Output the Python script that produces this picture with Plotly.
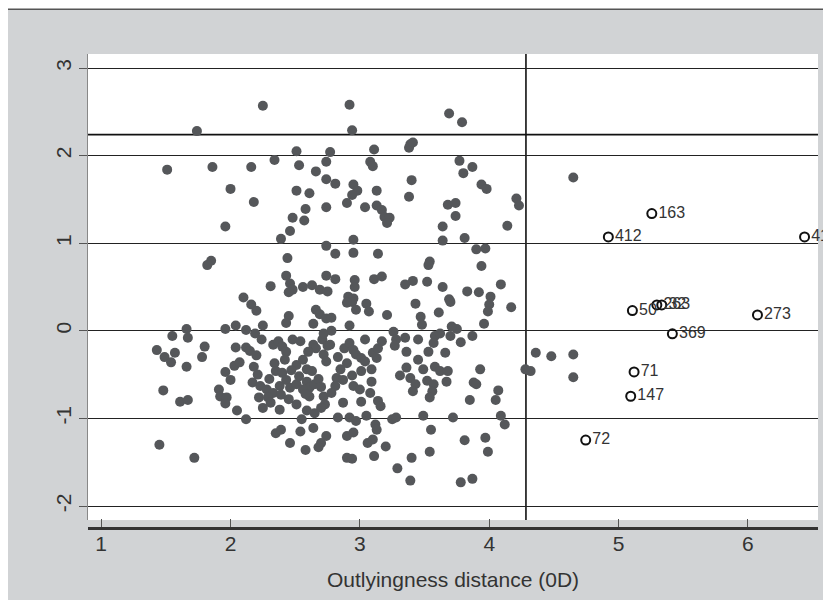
import plotly.graph_objects as go

# Filled points (regular observations): outlyingness distance (x) and y score
x_reg = [
    2.25, 1.74, 1.51, 1.86, 2.16, 2.34, 2.51, 2.53, 2.66, 2.74, 2.77, 2.74, 2.00, 2.18, 2.51, 2.61,
    2.58, 2.48, 2.57, 2.46, 2.39, 1.96, 2.74, 2.74, 2.44, 1.85, 1.82, 2.43, 2.74, 2.31, 2.46, 2.48,
    2.56, 2.63, 2.69, 2.75, 2.45, 2.10,
    2.92, 2.94, 3.69, 3.79, 3.11, 3.08, 3.10, 3.39, 3.38, 3.41, 3.77, 3.87, 3.80, 3.94, 3.98, 4.21,
    4.23, 2.81, 2.95, 2.98, 2.94, 2.90, 3.04, 3.13, 3.13, 3.17, 3.19, 3.23, 3.21, 3.40, 3.38, 3.68,
    3.74, 3.74, 3.64, 3.64, 3.81, 4.14, 3.90, 3.97, 3.94, 4.09, 3.83, 3.92, 4.01, 2.81, 2.95, 2.95,
    3.14, 3.54, 3.53, 2.81, 2.96, 2.96, 3.11, 3.17, 3.35, 3.41, 3.52, 3.64, 2.91, 2.95, 3.69,
    2.16, 2.20, 2.45, 2.43, 2.66, 2.69, 2.64, 2.74, 1.66, 1.67, 1.55, 1.43, 1.49, 1.54, 1.57, 1.66,
    1.80, 1.78, 1.48, 1.61, 1.67, 1.45, 1.72, 1.96, 2.04, 2.12, 2.19, 2.25, 2.24, 2.04, 2.12, 2.15,
    2.33, 2.37, 2.40, 2.48, 2.54, 2.64, 2.71, 2.75, 2.03, 2.07, 1.96, 2.00, 1.91, 1.92, 1.97, 1.96,
    2.05, 2.12,
    2.18, 2.21, 2.17, 2.23, 2.28, 2.33, 2.22, 2.29, 2.31, 2.25, 2.34, 2.35, 2.40, 2.43, 2.38, 2.46,
    2.51, 2.51, 2.56, 2.59, 2.63, 2.59, 2.61, 2.56, 2.65, 2.66, 2.72, 2.74, 2.60, 2.51, 2.61, 2.72,
    2.73, 2.59, 2.65, 2.39, 2.43, 2.30, 2.47, 2.53, 2.68, 2.70, 2.45, 2.38, 2.20, 2.83, 2.88, 2.58,
    2.42,
    2.55, 2.35, 2.39, 2.54, 2.64, 2.74, 2.70, 2.68, 2.46, 2.58,
    2.94, 2.90, 3.05, 3.07, 2.97, 3.21, 3.43, 3.61, 3.70, 4.00, 3.99, 4.17, 3.96, 3.47, 3.48, 2.78,
    2.92, 2.78, 2.72, 2.77, 3.04, 2.92, 2.95, 2.97, 3.01, 3.04, 3.10, 3.14, 3.17, 3.13, 3.26, 3.28,
    3.27, 3.35, 3.45, 3.36, 3.58, 3.62, 3.70, 3.75, 3.71, 3.78, 3.87, 3.57, 3.53, 3.66, 3.45, 2.90,
    2.85, 2.82, 2.87, 2.81, 2.78, 2.70,
    2.94, 2.95, 3.00, 3.01, 3.09, 3.09, 3.08, 2.87, 3.01, 3.14, 3.16, 3.36, 3.31, 3.39, 3.43, 3.41,
    3.49, 3.52, 3.57, 3.56, 3.54, 3.58, 3.62, 3.68, 3.67, 3.93, 3.88, 3.90, 3.85, 4.07, 4.05, 4.09,
    4.12, 2.83, 2.92, 2.97, 3.05, 3.12, 3.13, 3.25, 3.28, 3.49, 3.72, 3.55, 3.81, 3.97, 3.99, 2.90,
    2.95, 3.06, 3.10, 3.20, 2.90, 2.94, 3.11, 3.40, 3.54, 3.29, 3.39, 3.78, 3.87, 4.28,
    4.65, 4.36, 4.48, 4.65, 4.32, 4.65,
]
y_reg = [
    2.57, 2.28, 1.84, 1.87, 1.87, 1.95, 2.05, 1.89, 1.82, 1.93, 2.04, 1.73, 1.62, 1.47, 1.60, 1.57,
    1.39, 1.29, 1.26, 1.14, 1.05, 1.19, 1.41, 0.97, 0.83, 0.80, 0.75, 0.63, 0.63, 0.51, 0.54, 0.47,
    0.50, 0.52, 0.47, 0.45, 0.44, 0.38,
    2.58, 2.29, 2.48, 2.38, 2.07, 1.93, 1.88, 2.13, 2.09, 2.15, 1.94, 1.87, 1.80, 1.67, 1.62, 1.51,
    1.43, 1.68, 1.67, 1.60, 1.55, 1.46, 1.41, 1.60, 1.43, 1.38, 1.30, 1.29, 1.23, 1.72, 1.53, 1.44,
    1.46, 1.31, 1.19, 1.03, 1.06, 1.20, 0.93, 0.94, 0.74, 0.53, 0.45, 0.44, 0.39, 0.88, 1.04, 0.89,
    0.88, 0.79, 0.75, 0.59, 0.58, 0.50, 0.59, 0.62, 0.53, 0.57, 0.56, 0.50, 0.39, 0.37, 0.36,
    0.30, 0.23, 0.17, 0.09, 0.24, 0.19, 0.08, 0.14, 0.02, -0.08, -0.06, -0.22, -0.30, -0.36, -0.25, -0.41,
    -0.18, -0.30, -0.68, -0.81, -0.79, -1.30, -1.45, 0.02, 0.06, 0.01, -0.03, 0.06, -0.10, -0.19, -0.19, -0.23,
    -0.16, -0.12, -0.18, -0.10, -0.12, -0.16, -0.10, -0.17, -0.40, -0.36, -0.47, -0.56, -0.67, -0.75, -0.76, -0.83,
    -0.91, -1.01,
    -0.41, -0.50, -0.59, -0.63, -0.67, -0.71, -0.76, -0.76, -0.82, -0.88, -0.37, -0.46, -0.48, -0.56, -0.63, -0.65,
    -0.61, -0.39, -0.33, -0.44, -0.46, -0.58, -0.65, -0.67, -0.61, -0.20, -0.27, -0.35, -0.24, -0.84, -0.75, -0.75,
    -0.84, -0.91, -0.94, -0.73, -0.24, -0.55, -0.45, -0.52, -0.55, -0.64, -0.78, -0.90, -0.28, -0.30, -0.20, -0.72,
    -0.33,
    -1.01, -1.17, -1.13, -1.15, -1.11, -1.20, -1.28, -1.33, -1.28, -1.36,
    0.33, 0.32, 0.31, 0.22, 0.24, 0.18, 0.31, 0.21, 0.33, 0.30, 0.22, 0.27, 0.08, 0.16, 0.07, 0.15,
    0.06, 0.00, -0.03, -0.16, -0.10, -0.14, -0.22, -0.27, -0.31, -0.35, -0.25, -0.20, -0.12, -0.31, -0.01, -0.10,
    -0.17, -0.08, -0.10, -0.24, -0.06, -0.03, -0.06, 0.02, 0.05, -0.13, -0.06, -0.14, -0.24, -0.25, -0.33, -0.37,
    -0.44, -0.54, -0.56, -0.63, -0.71, -0.88,
    -0.51, -0.63, -0.67, -0.46, -0.44, -0.58, -0.71, -0.82, -0.81, -0.80, -0.86, -0.42, -0.51, -0.54, -0.61, -0.69,
    -0.44, -0.57, -0.61, -0.69, -0.76, -0.41, -0.46, -0.46, -0.58, -0.44, -0.59, -0.61, -0.79, -0.68, -0.79, -0.97,
    -1.07, -0.99, -0.99, -1.03, -0.97, -1.07, -1.13, -1.01, -0.99, -0.97, -0.99, -1.13, -1.25, -1.22, -1.38, -1.20,
    -1.16, -1.28, -1.24, -1.32, -1.45, -1.46, -1.43, -1.45, -1.38, -1.57, -1.71, -1.73, -1.69, -0.44,
    1.75, -0.25, -0.29, -0.27, -0.46, -0.53,
]

# Labelled outliers (hollow markers)
out_labels = ["163", "412", "41", "50", "263", "32", "273", "369", "71", "147", "72"]
x_out = [5.257, 4.921, 6.438, 5.107, 5.296, 5.334, 6.074, 5.416, 5.120, 5.094, 4.746]
y_out = [1.338, 1.072, 1.072, 0.231, 0.295, 0.295, 0.182, -0.034, -0.469, -0.747, -1.247]

x_ticks = [1, 2, 3, 4, 5, 6]
y_ticks = [-2, -1, 0, 1, 2, 3]
y_ticktext = ["-2", "-1", "0", "1", "2", "3"]
x_cutoff = 4.284
y_cutoff = 2.24
x_title = "Outlyingness distance (0D)"

FONT = "Liberation Sans, Arial, Helvetica, sans-serif"
GRAY_BG = "#d1d3d5"

fig = go.Figure()
fig.add_trace(go.Scatter(
    x=x_reg, y=y_reg, mode="markers",
    marker=dict(size=10, color="#55575a", line=dict(width=0)),
    hoverinfo="skip", showlegend=False,
))
fig.add_trace(go.Scatter(
    x=x_out, y=y_out, mode="markers+text", text=out_labels,
    textposition="middle right", cliponaxis=False,
    textfont=dict(family=FONT, size=16, color="#333333"),
    marker=dict(symbol="circle-open", size=9, color="#111111", line=dict(width=2, color="#111111")),
    showlegend=False,
))

shapes = [
    # cut-off lines
    dict(type="line", xref="x", yref="y domain", x0=x_cutoff, x1=x_cutoff, y0=0, y1=1,
         line=dict(color="#111111", width=1.6), layer="below"),
    dict(type="line", xref="x domain", yref="y", x0=0, x1=1, y0=y_cutoff, y1=y_cutoff,
         line=dict(color="#111111", width=1.6), layer="below"),
    # white strips outside the gray graph frame
    dict(type="rect", xref="paper", yref="paper", x0=-0.3, x1=1.3, y0=1.0945, y1=1.3,
         fillcolor="white", line=dict(width=0), layer="below"),
    dict(type="rect", xref="paper", yref="paper", x0=-0.3, x1=-0.1137, y0=-0.4, y1=1.3,
         fillcolor="white", line=dict(width=0), layer="below"),
    dict(type="line", xref="paper", yref="paper", x0=-0.1137, x1=1.3, y0=1.0945, y1=1.0945,
         line=dict(color="#555555", width=1.5)),
    dict(type="line", xref="paper", yref="paper", x0=-0.1137, x1=-0.1137, y0=-0.4, y1=1.0945,
         line=dict(color="#555555", width=1.5)),
]

fig.update_layout(
    width=831, height=592,
    margin=dict(l=80, r=21, t=46, b=70, pad=0),
    paper_bgcolor=GRAY_BG, plot_bgcolor="white",
    font=dict(family=FONT, color="#333333", size=21),
    shapes=shapes,
    xaxis=dict(
        range=[0.898, 6.542], tickvals=x_ticks, ticks="inside", ticklen=8,
        tickcolor="#555555", tickwidth=1, showline=True, linecolor="#333333", linewidth=3,
        anchor="free", position=0, showgrid=False, zeroline=False,
        tickfont=dict(size=21, color="#333333"), ticklabelstandoff=-4,
        title=dict(text=x_title, font=dict(size=21, color="#333333"), standoff=18),
    ),
    yaxis=dict(
        range=[-2.16, 3.16], domain=[0.0168, 1], tickvals=y_ticks, ticktext=y_ticktext,
        tickangle=-90,
        ticks="outside", ticklen=8, tickcolor="#555555", tickwidth=1,
        showline=True, linecolor="#888888", linewidth=1,
        showgrid=True, gridcolor="#222222", gridwidth=1.3, zeroline=False,
        tickfont=dict(size=21, color="#333333"),
    ),
)

fig.write_html("out.html", default_width="831px", default_height="592px")
